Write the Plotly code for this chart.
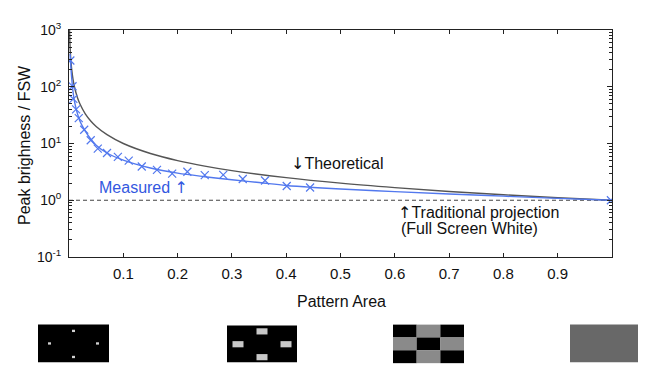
import plotly.graph_objects as go

# ---------------- data ----------------
theo_x = [0.001, 0.0015, 0.002, 0.003, 0.004, 0.005, 0.0075, 0.01, 0.015, 0.02, 0.03, 0.04,
          0.05, 0.07, 0.1, 0.15, 0.2, 0.25, 0.3, 0.4, 0.5, 0.6, 0.7, 0.8, 0.9, 1.0]
theo_y = [1000, 667, 500, 333, 250, 200, 133, 100, 66.7, 50, 33.3, 25,
          20, 14.3, 10, 6.67, 5.0, 4.0, 3.33, 2.5, 2.0, 1.67, 1.43, 1.25, 1.11, 1.0]

meas_line_x = [0.002, 0.003, 0.005, 0.0075, 0.01, 0.015, 0.02, 0.03, 0.04, 0.05, 0.07, 0.1,
               0.15, 0.2, 0.25, 0.3, 0.35, 0.4, 0.45, 0.5, 0.6, 0.7, 0.8, 0.9, 1.0]
meas_line_y = [380, 260, 140, 80, 56, 35, 25, 16.5, 12, 9.3, 6.8, 5.1,
               3.7, 3.0, 2.6, 2.3, 2.05, 1.82, 1.68, 1.58, 1.42, 1.29, 1.18, 1.08, 1.0]

meas_x = [0.0025, 0.0065, 0.008, 0.013, 0.018, 0.028, 0.040, 0.053, 0.070, 0.090, 0.110,
          0.134, 0.162, 0.190, 0.218, 0.250, 0.284, 0.320, 0.361, 0.401, 0.444, 0.998]
meas_y = [290, 102, 61, 40, 28, 17.5, 11.4, 8.1, 6.8, 5.8, 5.0,
          3.94, 3.44, 2.94, 3.18, 2.77, 2.80, 2.37, 2.23, 1.78, 1.68, 1.0]

fsw_x = [0.0, 1.0]
fsw_y = [1.0, 1.0]

x_tickvals = [0.1, 0.2, 0.3, 0.4, 0.5, 0.6, 0.7, 0.8, 0.9]
x_ticktext = ["0.1", "0.2", "0.3", "0.4", "0.5", "0.6", "0.7", "0.8", "0.9"]
y_tickvals = [0.1, 1, 10, 100, 1000]
y_ticktext = ["10<sup>-1</sup>", "10<sup>0</sup>", "10<sup>1</sup>", "10<sup>2</sup>", "10<sup>3</sup>"]
y_minor_vals = [0.2, 0.3, 0.4, 0.5, 0.6, 0.7, 0.8, 0.9,
                2, 3, 4, 5, 6, 7, 8, 9,
                20, 30, 40, 50, 60, 70, 80, 90,
                200, 300, 400, 500, 600, 700, 800, 900]

# ---------------- figure ----------------
OFF = 8                      # page body margin of the browser
W, H = 646 - OFF, 366 - OFF
L, T = 69 - OFF, 22 - OFF
R = W - (612 - OFF)
B = H - (257 - OFF)
PW, PH = 612 - 69, 257 - 22

def px(xp):                  # reference pixel x -> paper
    return (xp - 69) / PW

def py(yp):                  # reference pixel y -> paper
    return (257 - yp) / PH

FONT = "Liberation Sans, Arial, Helvetica, sans-serif"
ARW = "<span style='font-family:DejaVu Sans'>{}</span>"
BLUE = "#5278ee"
BLUE_TXT = "#3358e0"
INK = "#111111"

fig = go.Figure()
fig.add_trace(go.Scatter(x=fsw_x, y=fsw_y, mode="lines",
                         line=dict(color="#444444", width=1.1, dash="4px,3px"),
                         hoverinfo="skip", showlegend=False))
fig.add_trace(go.Scatter(x=theo_x, y=theo_y, mode="lines",
                         line=dict(color="#555555", width=1.4, shape="spline"),
                         showlegend=False))
fig.add_trace(go.Scatter(x=meas_line_x, y=meas_line_y, mode="lines",
                         line=dict(color=BLUE, width=1.4, shape="spline"),
                         showlegend=False))
fig.add_trace(go.Scatter(x=meas_x, y=meas_y, mode="markers",
                         marker=dict(symbol="x-thin", size=8, color=BLUE,
                                     line=dict(color=BLUE, width=1.2)),
                         showlegend=False))

axis_common = dict(showline=True, linecolor="#222222", linewidth=1, mirror="ticks",
                   ticks="inside", tickcolor="#222222", showgrid=False, zeroline=False)

fig.update_xaxes(range=[0, 1], tickvals=x_tickvals, ticktext=x_ticktext, ticklen=4,
                 tickfont=dict(family=FONT, size=15, color=INK), ticklabelstandoff=3,
                 **axis_common)
fig.update_yaxes(type="log", range=[-1, 3], tickvals=y_tickvals, ticktext=y_ticktext, ticklen=5,
                 tickfont=dict(family=FONT, size=14, color=INK),
                 minor=dict(ticks="inside", ticklen=3, tickcolor="#222222", showgrid=False,
                            tickvals=y_minor_vals),
                 ticklabelstandoff=4,
                 **axis_common)

def note(text, xp, yp, color=INK, size=16, xanchor="left", angle=0):
    return dict(text=text, x=px(xp), y=py(yp), xref="paper", yref="paper",
                xanchor=xanchor, yanchor="middle", textangle=angle, showarrow=False,
                font=dict(family=FONT, size=size, color=color))

annotations = [
    note("Peak brighness / FSW", 25, 141, xanchor="center", angle=-90),
    note("Pattern Area", 341, 303, xanchor="center"),
    note(ARW.format("↓") + "Theoretical", 289, 160),
    note("Measured " + ARW.format("↑"), 97, 185, color=BLUE_TXT),
    note(ARW.format("↑") + "Traditional projection", 396, 211),
    note("(Full Screen White)", 399, 228),
]

shapes = []

def rect(x0, y0, x1, y1, color):
    shapes.append(dict(type="rect", xref="paper", yref="paper",
                       x0=px(x0), x1=px(x1), y0=py(y1), y1=py(y0),
                       fillcolor=color, line=dict(width=0), layer="above"))

# thumbnail 1: black with four small dots
rect(38, 327, 109, 366, "#000000")
for cx, cy in [(73.5, 333.5), (49.5, 346.5), (97.5, 346.5), (73.5, 360.5)]:
    rect(cx - 1.5, cy - 1.2, cx + 1.5, cy + 1.2, "#d0d0d0")
# thumbnail 2: black with four rectangles
rect(227, 328, 297, 366, "#000000")
for cx, cy in [(262, 334), (238, 347.3), (286, 347.3), (262, 360.7)]:
    rect(cx - 5.5, cy - 3.2, cx + 5.5, cy + 3.2, "#c8c8c8")
# thumbnail 3: checkerboard
cw, ch = (464 - 393) / 3, 13.3
for r in range(3):
    for c in range(3):
        col = "#000000" if (r + c) % 2 == 0 else "#8a8a8a"
        rect(393 + c * cw, 327 + r * ch, 393 + (c + 1) * cw, 327 + (r + 1) * ch, col)
# thumbnail 4: full grey
rect(570, 327, 641, 366, "#686868")

fig.update_layout(width=W, height=H, margin=dict(l=L, r=R, t=T, b=B),
                  paper_bgcolor="white", plot_bgcolor="white",
                  annotations=annotations, shapes=shapes,
                  font=dict(family=FONT, size=14, color=INK))

fig.write_html("out.html")
